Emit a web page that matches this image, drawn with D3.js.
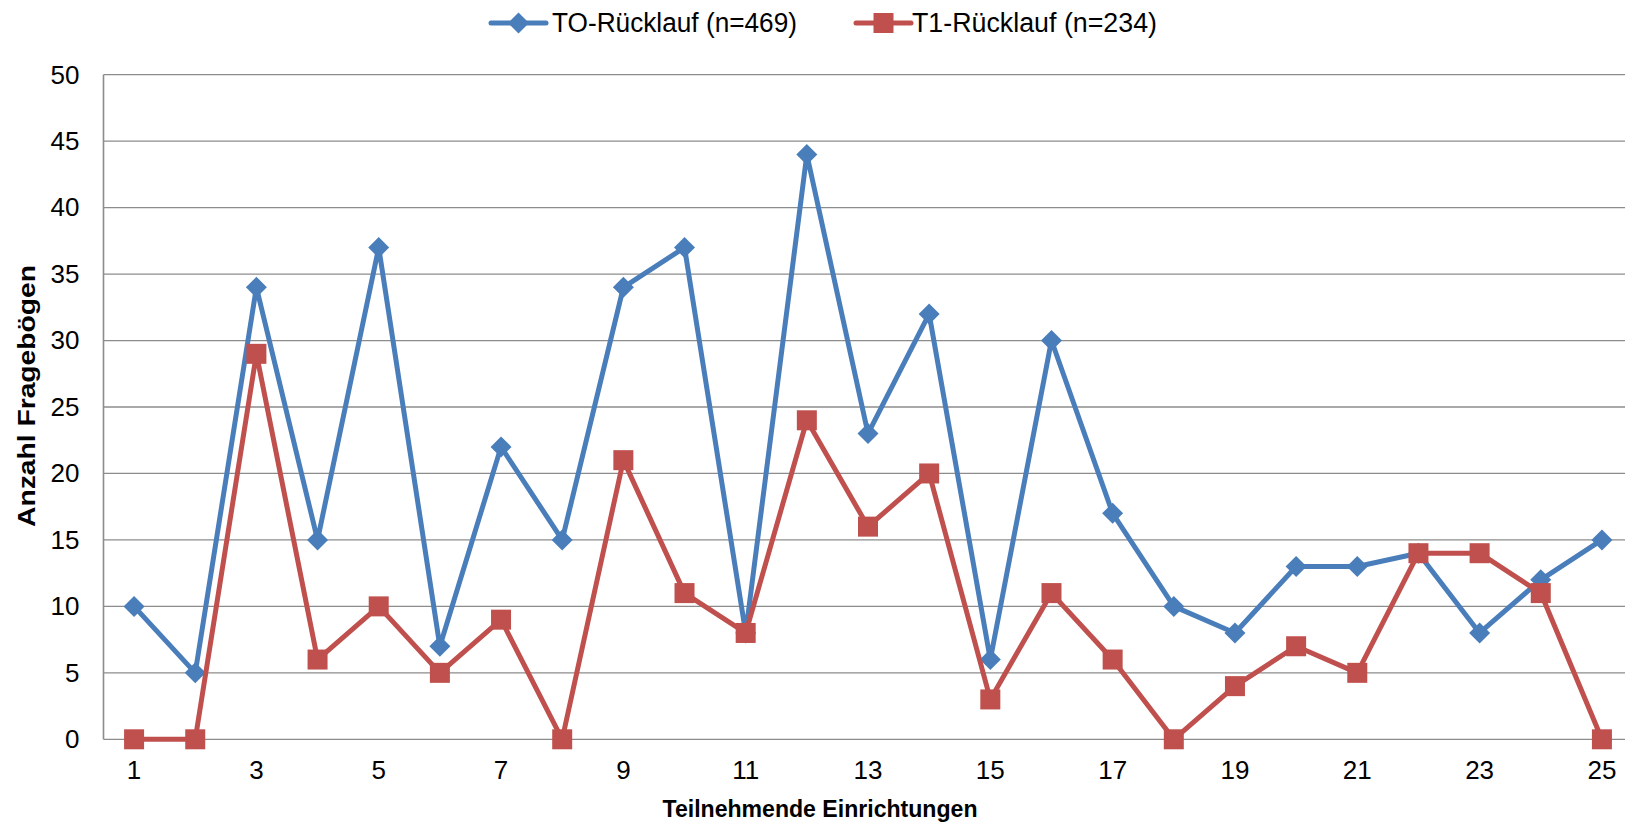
<!DOCTYPE html>
<html>
<head>
<meta charset="utf-8">
<script src="https://d3js.org/d3.v7.min.js"></script>
<style>
  body { margin: 0; background: #fff; }
  svg { display: block; font-family: "Liberation Sans", Arial, Helvetica, sans-serif; }
  .grid line { stroke: #8c8c8c; stroke-width: 1.3px; }
  .axis path, .axis line { display: none; }
  .axis text { font-size: 26px; fill: #000; }
</style>
</head>
<body>
<div id="chart"></div>
<script>
// Data
var categories = ["1","2","3","4","5","6","7","8","9","10","11","12","13","14","15","16","17","18","19","20","21","22","23","24","25"];
var t0Values = [10, 5, 34, 15, 37, 7, 22, 15, 34, 37, 8, 44, 23, 32, 6, 30, 17, 10, 8, 13, 13, 14, 8, 12, 15];
var t1Values = [0, 0, 29, 6, 10, 5, 9, 0, 21, 11, 8, 24, 16, 20, 3, 11, 6, 0, 4, 7, 5, 14, 14, 11, 0];
var seriesNames = ["TO-Rücklauf (n=469)", "T1-Rücklauf (n=234)"];
var yTicks = [0, 5, 10, 15, 20, 25, 30, 35, 40, 45, 50];
var xTickLabels = ["1","3","5","7","9","11","13","15","17","19","21","23","25"];

var svgWidth = 1625;
var svgHeight = 824;
// plot area runs a little past the right edge, like the original
var plot = {left: 103.5, right: 1632.5, top: 74.7, bottom: 739.3};

var svg = d3.select("#chart")
  .append("svg")
  .attr("width", svgWidth)
  .attr("height", svgHeight);

var xScale = d3.scaleBand()
  .domain(categories)
  .range([plot.left, plot.right]);

var yScale = d3.scaleLinear()
  .domain([0, 50])
  .range([plot.bottom, plot.top]);

var xPos = d => xScale(d) + xScale.bandwidth() / 2;

// horizontal gridlines
svg.append("g")
  .attr("class", "grid")
  .selectAll("line")
  .data(yTicks)
  .enter()
  .append("line")
  .attr("x1", plot.left)
  .attr("x2", plot.right)
  .attr("y1", d => yScale(d))
  .attr("y2", d => yScale(d));

// left axis line
svg.append("line")
  .attr("x1", plot.left)
  .attr("x2", plot.left)
  .attr("y1", plot.top)
  .attr("y2", plot.bottom)
  .attr("stroke", "#8c8c8c")
  .attr("stroke-width", 1.6);

// y axis labels
svg.append("g")
  .attr("class", "axis")
  .attr("transform", `translate(${plot.left}, 0)`)
  .call(d3.axisLeft(yScale).tickValues(yTicks).tickSize(0).tickPadding(24));

// x axis labels (every second category)
svg.append("g")
  .attr("class", "axis")
  .attr("transform", `translate(0, ${plot.bottom})`)
  .call(d3.axisBottom(xScale).tickValues(xTickLabels).tickSize(0).tickPadding(21));

var series = [
  {name: seriesNames[0], values: t0Values, color: "#4a7ebb", marker: "diamond"},
  {name: seriesNames[1], values: t1Values, color: "#c0504d", marker: "square"}
];

var line = d3.line()
  .x((d, i) => xPos(categories[i]))
  .y(d => yScale(d));

function drawMarker(sel, type, color) {
  if (type === "diamond") {
    sel.append("path")
      .attr("d", "M0,-10.5L10.5,0L0,10.5L-10.5,0Z")
      .attr("fill", color);
  } else {
    sel.append("rect")
      .attr("x", -10)
      .attr("y", -10)
      .attr("width", 20)
      .attr("height", 20)
      .attr("fill", color);
  }
}

series.forEach(function(s) {
  var g = svg.append("g");
  g.append("path")
    .datum(s.values)
    .attr("d", line)
    .attr("fill", "none")
    .attr("stroke", s.color)
    .attr("stroke-width", 5)
    .attr("stroke-linejoin", "round")
    .attr("stroke-linecap", "round");

  g.selectAll("g.pt")
    .data(s.values)
    .enter()
    .append("g")
    .attr("class", "pt")
    .attr("transform", (d, i) => `translate(${xPos(categories[i])}, ${yScale(d)})`)
    .each(function() { drawMarker(d3.select(this), s.marker, s.color); });
});

// legend
var legendItems = [{x: 491, textX: 552}, {x: 856, textX: 912}];
series.forEach(function(s, i) {
  var lg = svg.append("g");
  lg.append("line")
    .attr("x1", legendItems[i].x)
    .attr("x2", legendItems[i].x + 55)
    .attr("y1", 23)
    .attr("y2", 23)
    .attr("stroke", s.color)
    .attr("stroke-width", 5)
    .attr("stroke-linecap", "round");
  var m = lg.append("g").attr("transform", `translate(${legendItems[i].x + 27.5}, 23)`);
  drawMarker(m, s.marker, s.color);
  lg.append("text")
    .attr("x", legendItems[i].textX)
    .attr("y", 32)
    .attr("font-size", "27px")
    .attr("textLength", 245)
    .attr("lengthAdjust", "spacingAndGlyphs")
    .text(s.name);
});

// axis titles
svg.append("text")
  .attr("x", 820)
  .attr("y", 817)
  .attr("text-anchor", "middle")
  .attr("font-size", "23.5px")
  .attr("font-weight", "bold")
  .attr("textLength", 315)
  .attr("lengthAdjust", "spacingAndGlyphs")
  .text("Teilnehmende Einrichtungen");

svg.append("text")
  .attr("transform", "translate(35, 396) rotate(-90)")
  .attr("text-anchor", "middle")
  .attr("font-size", "24px")
  .attr("font-weight", "bold")
  .attr("textLength", 262)
  .attr("lengthAdjust", "spacingAndGlyphs")
  .text("Anzahl Fragebögen");
</script>
</body>
</html>
